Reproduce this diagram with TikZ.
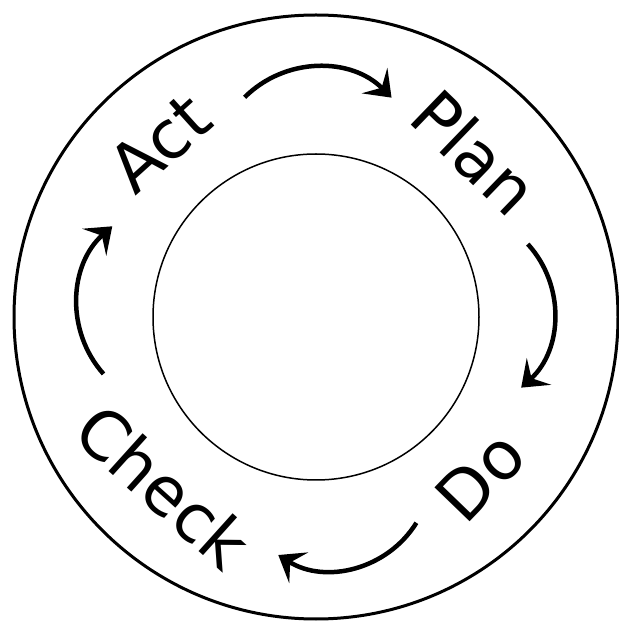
\documentclass[tikz,border=0pt]{standalone}
\usepackage{fontspec}
\setmainfont{DejaVu Sans}
\usetikzlibrary{arrows.meta}
\begin{document}
\begin{tikzpicture}[x=1pt,y=1pt,
  lbl/.style={font=\fontsize{67}{67}\selectfont, inner sep=0pt},
  cyc/.style={line width=4.5pt, -{Stealth[length=24pt,width=36pt,inset=10pt]}, bend left=45}]
\useasboundingbox (0,0) rectangle (619,622);
\coordinate (c) at (316,305);
\draw[line width=3pt] (c) circle[radius=302];
\draw[line width=1.5pt] (c) circle[radius=163];
\node[lbl, rotate=42]  (act)   at ([shift={(132:234)}]c) {Act};
\node[lbl, rotate=-44] (plan)  at ([shift={(46:229)}]c) {Plan};
\node[lbl, rotate=46]  (do)    at ([shift={(-44:229)}]c) {Do};
\node[lbl, rotate=-42] (check) at ([shift={(-132:228)}]c) {Check};
\coordinate (t1) at ([shift={(108:231)}]c);
\coordinate (t2) at ([shift={(71:232)}]c);
\coordinate (r1) at ([shift={(19:224)}]c);
\coordinate (r2) at ([shift={(-19:217)}]c);
\coordinate (b1) at ([shift={(-64:229)}]c);
\coordinate (b2) at ([shift={(-99:241)}]c);
\coordinate (l1) at ([shift={(195:220)}]c);
\coordinate (l2) at ([shift={(156:223)}]c);
\draw[cyc] (t1) to (t2);
\draw[cyc] (r1) to (r2);
\draw[cyc] (b1) to (b2);
\draw[cyc] (l1) to (l2);
\end{tikzpicture}
\end{document}
